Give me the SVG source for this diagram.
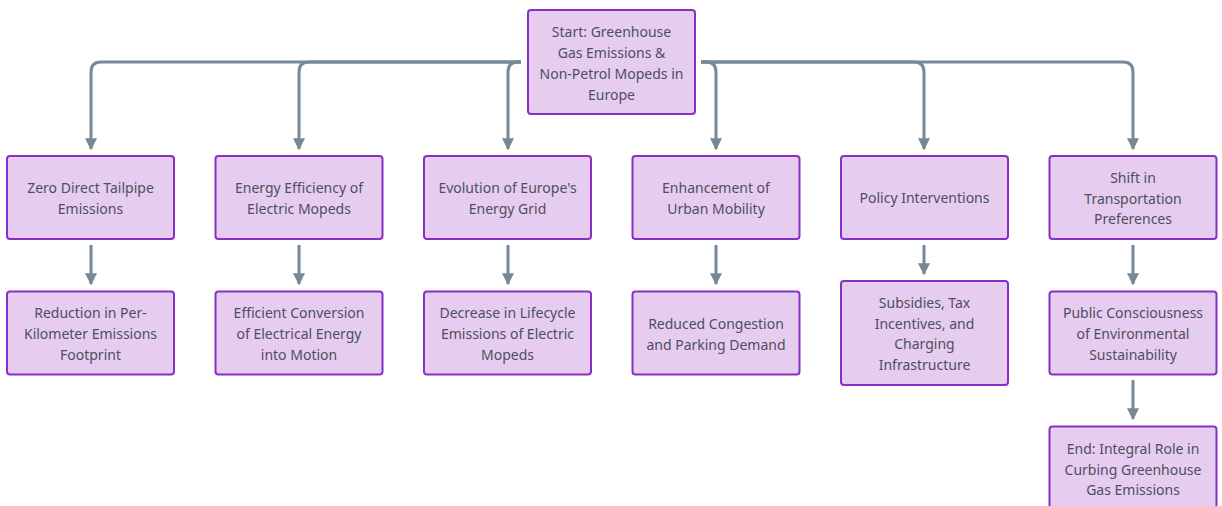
<svg xmlns="http://www.w3.org/2000/svg" width="1222" height="506" viewBox="0 0 1222 506">
<style>
.n rect{fill:#E6CDF0;stroke:#8A2FC5;stroke-width:2}
.n text{font-family:"Noto Sans","Liberation Sans",sans-serif;font-size:14px;fill:#4D4F5C;text-anchor:middle;dominant-baseline:central}
.c path{fill:none;stroke:#778899;stroke-width:3}
</style>
<defs>
<marker id="ah" viewBox="0 0 10 10" refX="9" refY="5" markerWidth="4" markerHeight="4" orient="auto" markerUnits="strokeWidth">
<path d="M0,0 L10,5 L0,10 z" fill="#778899"/>
</marker>
</defs>
<rect width="1222" height="506" fill="#fff"/>
<g class="c">
<path d="M521 62 H101 Q91 62 91 72 V149" marker-end="url(#ah)"/>
<path d="M521 62 H309 Q299 62 299 72 V149" marker-end="url(#ah)"/>
<path d="M521 62 H518 Q508 62 508 72 V149" marker-end="url(#ah)"/>
<path d="M701 62 H706 Q716 62 716 72 V149" marker-end="url(#ah)"/>
<path d="M701 62 H914 Q924 62 924 72 V149" marker-end="url(#ah)"/>
<path d="M701 62 H1123 Q1133 62 1133 72 V149" marker-end="url(#ah)"/>
<path d="M91 245 V284" marker-end="url(#ah)"/>
<path d="M299 245 V284" marker-end="url(#ah)"/>
<path d="M508 245 V284" marker-end="url(#ah)"/>
<path d="M716 245 V284" marker-end="url(#ah)"/>
<path d="M924 245 V274" marker-end="url(#ah)"/>
<path d="M1133 245 V284" marker-end="url(#ah)"/>
<path d="M1133 380 V419" marker-end="url(#ah)"/>
</g>
<g id="start" class="n"><rect x="528" y="10" width="167" height="104" rx="3"/>
<text x="611.5" y="31">Start: Greenhouse</text><text x="611.5" y="52">Gas Emissions &amp;</text><text x="611.5" y="73">Non-Petrol Mopeds in</text><text x="611.5" y="94">Europe</text></g>
<g id="zero" class="n"><rect x="7" y="156" width="167" height="83" rx="3"/>
<text x="90.5" y="187">Zero Direct Tailpipe</text><text x="90.5" y="208">Emissions</text></g>
<g id="eff" class="n"><rect x="215.5" y="156" width="167" height="83" rx="3"/>
<text x="299" y="187">Energy Efficiency of</text><text x="299" y="208">Electric Mopeds</text></g>
<g id="grid" class="n"><rect x="424" y="156" width="167" height="83" rx="3"/>
<text x="507.5" y="187">Evolution of Europe's</text><text x="507.5" y="208">Energy Grid</text></g>
<g id="urban" class="n"><rect x="632.5" y="156" width="167" height="83" rx="3"/>
<text x="716" y="187">Enhancement of</text><text x="716" y="208">Urban Mobility</text></g>
<g id="policy" class="n"><rect x="841" y="156" width="167" height="83" rx="3"/>
<text x="924.5" y="197.5">Policy Interventions</text></g>
<g id="shift" class="n"><rect x="1049.5" y="156" width="167" height="83" rx="3"/>
<text x="1133" y="177">Shift in</text><text x="1133" y="198">Transportation</text><text x="1133" y="218">Preferences</text></g>
<g id="reduction" class="n"><rect x="7" y="291.5" width="167" height="83" rx="3"/>
<text x="90.5" y="312">Reduction in Per-</text><text x="90.5" y="333">Kilometer Emissions</text><text x="90.5" y="354">Footprint</text></g>
<g id="conversion" class="n"><rect x="215.5" y="291.5" width="167" height="83" rx="3"/>
<text x="299" y="312">Efficient Conversion</text><text x="299" y="333">of Electrical Energy</text><text x="299" y="354">into Motion</text></g>
<g id="lifecycle" class="n"><rect x="424" y="291.5" width="167" height="83" rx="3"/>
<text x="507.5" y="312">Decrease in Lifecycle</text><text x="507.5" y="333">Emissions of Electric</text><text x="507.5" y="354">Mopeds</text></g>
<g id="congestion" class="n"><rect x="632.5" y="291.5" width="167" height="83" rx="3"/>
<text x="716" y="323">Reduced Congestion</text><text x="716" y="344">and Parking Demand</text></g>
<g id="subsidies" class="n"><rect x="841" y="281" width="167" height="104" rx="3"/>
<text x="924.5" y="302">Subsidies, Tax</text><text x="924.5" y="323">Incentives, and</text><text x="924.5" y="343">Charging</text><text x="924.5" y="364">Infrastructure</text></g>
<g id="public" class="n"><rect x="1049.5" y="291.5" width="167" height="83" rx="3"/>
<text x="1133" y="312">Public Consciousness</text><text x="1133" y="333">of Environmental</text><text x="1133" y="354">Sustainability</text></g>
<g id="end" class="n"><rect x="1049.5" y="426.5" width="167" height="84" rx="3"/>
<text x="1133" y="448">End: Integral Role in</text><text x="1133" y="469">Curbing Greenhouse</text><text x="1133" y="489">Gas Emissions</text></g>
</svg>
